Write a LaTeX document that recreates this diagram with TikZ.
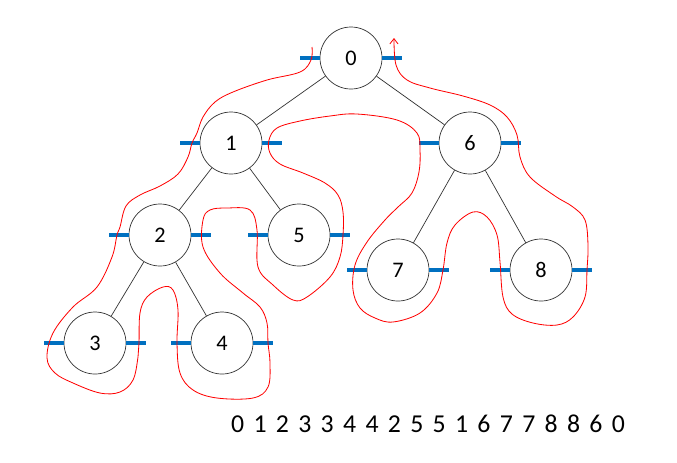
\documentclass[tikz,border=0pt]{standalone}
\usepackage{fontspec}
\setmainfont{Carlito}
\newfontfamily\seqfont[WordSpace=1.6]{Carlito}
\usepackage{tikz}
\usetikzlibrary{arrows,arrows.meta}
\definecolor{barblue}{RGB}{0,112,192}

\begin{document}
\begin{tikzpicture}[x=0.03cm, y=-0.03cm,
    vtx/.style={circle, draw=black!80, line width=0.6pt, minimum size=1.86cm, inner sep=0pt, font=\fontsize{19}{22}\selectfont},
    bar/.style={barblue, line width=3.4pt},
    tour/.style={red, line width=0.7pt}]
    % Binary tree with Euler tour
    \useasboundingbox (0,0) rectangle (677,462);
    \node (n0) at (351,58) [vtx] {0};
    \node (n1) at (231,143) [vtx] {1};
    \node (n6) at (470,143) [vtx] {6};
    \node (n2) at (160,235) [vtx] {2};
    \node (n5) at (299,235) [vtx] {5};
    \node (n3) at (95,343) [vtx] {3};
    \node (n4) at (222,343) [vtx] {4};
    \node (n7) at (398,270) [vtx] {7};
    \node (n8) at (541,270) [vtx] {8};

    \draw [black!80, line width=0.6pt] (n0) -- (n1);
    \draw [black!80, line width=0.6pt] (n0) -- (n6);
    \draw [black!80, line width=0.6pt] (n1) -- (n2);
    \draw [black!80, line width=0.6pt] (n1) -- (n5);
    \draw [black!80, line width=0.6pt] (n2) -- (n3);
    \draw [black!80, line width=0.6pt] (n2) -- (n4);
    \draw [black!80, line width=0.6pt] (n6) -- (n7);
    \draw [black!80, line width=0.6pt] (n6) -- (n8);

    % entry / exit marks
    \foreach \v in {n0,n1,n2,n3,n4,n5,n6,n7,n8} {
        \draw [bar] (\v.west) -- ++(-20,0);
        \draw [bar] (\v.east) -- ++(20,0);
    }

    % the tour
    \draw [tour, -{Straight Barb[length=4.5pt,width=7pt]}] plot [smooth, tension=0.6] coordinates {
        (312,47) (311,60) (300,72) (267,80) (233,92) (215,102) (203,117)
        (197,133) (192,143) (188,157) (178,174) (160,186) (140,195) (126,206)
        (120,227) (117,235) (112,257) (97,287) (73,307) (53,333) (47,358)
        (55,373) (73,383) (100,393) (120,392) (133,380) (138,357) (139,343)
        (140,313) (147,297) (163,287) (173,290) (178,310) (177,343) (180,373)
        (193,390) (217,398) (253,398) (268,387) (270,363) (268,343) (267,323)
        (260,307) (243,293) (220,273) (203,247) (203,220) (210,210) (227,208)
        (250,210) (257,230) (258,267) (273,285) (293,300) (307,297) (330,277)
        (340,257) (343,235) (343,212) (338,195) (325,183) (303,173) (280,164)
        (270,153) (269,140) (277,128) (300,121) (330,116) (357,114) (397,120)
        (417,133) (420,150) (419,172) (412,193) (398,207) (385,220) (367,242)
        (355,265) (353,290) (360,308) (375,318) (393,322) (420,313) (437,293)
        (443,270) (447,243) (455,225) (473,212) (487,217) (497,235) (500,262)
        (503,297) (512,314) (533,323) (557,325) (573,317) (585,297) (587,270)
        (588,245) (585,220) (573,207) (555,196) (530,177) (520,157) (517,135)
        (507,117) (490,105) (463,96) (430,88) (407,80) (396,65) (394,38)};

    \node (seq) at (428,424) {\seqfont\fontsize{22}{26}\selectfont 0 1 2 3 3 4 4 2 5 5 1 6 7 7 8 8 6 0};
\end{tikzpicture}
\end{document}
